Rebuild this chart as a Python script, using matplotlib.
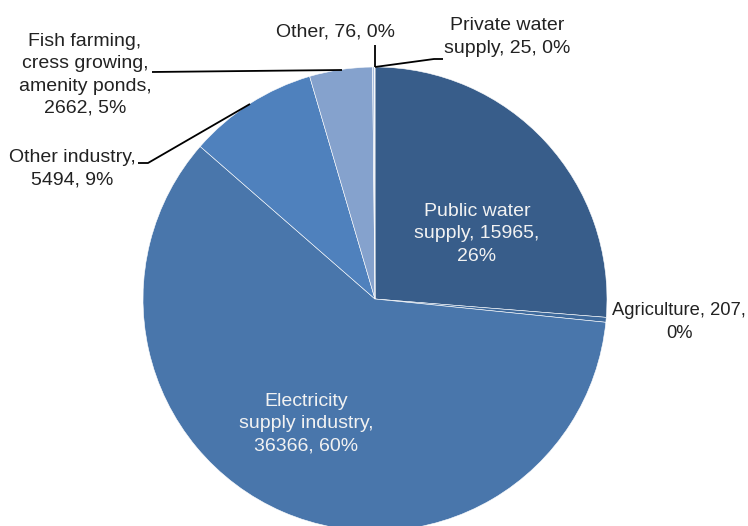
import matplotlib
matplotlib.use("Agg")
import matplotlib.pyplot as plt

# slices, clockwise from 12 o'clock
labels = ["Public water\nsupply, 15965,\n26%", "Agriculture, 207,\n0%",
          "Electricity\nsupply industry,\n36366, 60%", "Other industry,\n5494, 9%",
          "Fish farming,\ncress growing,\namenity ponds,\n2662, 5%", "Other, 76, 0%",
          "Private water\nsupply, 25, 0%"]
values = [15965, 207, 36366, 5494, 2662, 76, 25]
colors = ["#385D8A", "#3F6A9C", "#4976AB", "#4F81BD", "#85A2CD", "#A8BEDE", "#C5D3EA"]

W, H = 748, 526
fig = plt.figure(figsize=(W / 100, H / 100), dpi=100)
ax = fig.add_axes([0, 0, 1, 1])

cx, cy, r = 375, H - 299, 232
ax.pie(values, colors=colors, startangle=90, counterclock=False,
       center=(cx, cy), radius=r, frame=True,
       wedgeprops=dict(edgecolor="white", linewidth=0.4))
ax.set_xlim(0, W)
ax.set_ylim(0, H)
ax.set_aspect("equal")
ax.axis("off")

fam = ["Liberation Sans Narrow", "Liberation Sans", "DejaVu Sans"]
# label positions in pixels from top-left, with horizontal anchor and size
pos = [(477, 234, "center", 14), (746, 322, "right", 13.2), (306, 424, "center", 14),
       (72, 169, "center", 14), (85, 75, "center", 14), (336, 32, "center", 14),
       (507, 37, "center", 14)]
txtcol = ["#F2F2F2", "#222222", "#F2F2F2", "#222222", "#222222", "#222222", "#222222"]
for lab, (x, y, ha, fs), c in zip(labels, pos, txtcol):
    ax.text(x, H - y, lab, ha=ha, va="center", multialignment="center",
            fontsize=fs, color=c, family=fam, linespacing=1.4)

# leader lines
def leader(pts):
    ax.plot([p[0] for p in pts], [H - p[1] for p in pts], color="black", lw=1.3,
            solid_capstyle="butt")

leader([(152, 72), (342, 70)])
leader([(138, 163), (148, 163), (250, 104)])
leader([(375, 45), (375, 67)])
leader([(375, 67), (434, 59), (443, 59)])

fig.savefig("out.png", dpi=100)
